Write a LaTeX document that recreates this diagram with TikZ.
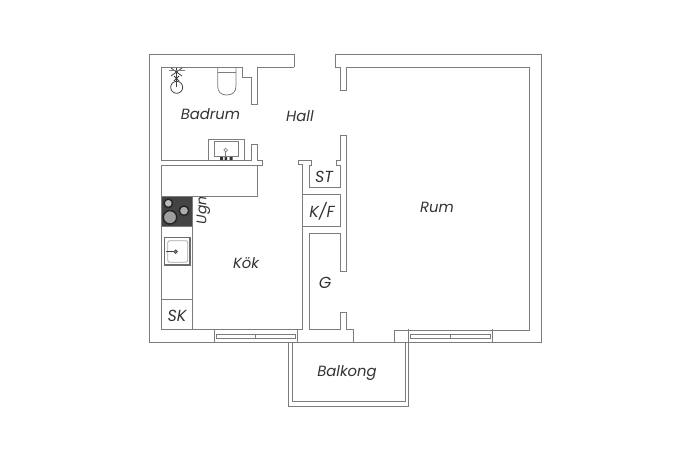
\documentclass[tikz,border=0pt]{standalone}
\usepackage{fontspec}
\setmainfont{Poppins}
\usepackage{xcolor}
\definecolor{wallgray}{HTML}{7C7C7C}
\definecolor{hobdark}{HTML}{444444}
\tikzset{
    wall/.style={draw=wallgray, line width=1pt, line join=miter},
    fixture/.style={draw=wallgray, line width=0.8pt},
    roomlabel/.style={font=\itshape\fontsize{14.8}{15}\selectfont, text=black!80, inner sep=0pt},
    smalllabel/.style={roomlabel, font=\itshape\fontsize{16}{16}\selectfont},
    hobring/.style={circle, draw=black!85, fill=gray!75, line width=1.5pt, inner sep=0pt}
}
\begin{document}
\begin{tikzpicture}[x=1pt, y=-1pt]
        \useasboundingbox (0,0) rectangle (690,460);

        % outer walls
        \path[wall] (294,67) -- (294,54.5) -- (149,54.5) -- (149,342.5) -- (541.5,342.5) -- (541.5,54.5) -- (335,54.5) -- (335,67);

        % badrum
        \path[wall] (294,67) -- (257.7,67) -- (257.7,104) -- (251,104) -- (251,77) -- (242,77) -- (242,67) -- (161.7,67) -- (161.7,160) -- (251,160) -- (251,144) -- (257.7,144) -- (257.7,160) -- (262,160) -- (262,165) -- (161.7,165) -- (161.7,329) -- (297,329);

        % hall and closets
        \path[wall] (335,67) -- (340.7,67) -- (340.7,90.7) -- (346,90.7) -- (346,67) -- (529,67) -- (529,330) -- (408,330);
        \path[wall] (340.7,135) -- (346,135) -- (346,271.3) -- (340.7,271.3) -- (340.7,233.3) -- (309,233.3) -- (309,329) -- (340.7,329) -- (340.7,312) -- (346.5,312) -- (346.5,329) -- (353,329) -- (353,342.5);
        \path[wall] (340.7,135) -- (340.7,160.7) -- (336,160.7) -- (336,165) -- (340.7,165) -- (340.7,187.7) -- (309,187.7) -- (309,165) -- (311.7,165) -- (311.7,160) -- (298.3,160) -- (298.3,164.5) -- (302.7,164.5) -- (302.7,329) -- (297,329) -- (297,342.5);
        \path[wall] (302.7,194) -- (340.7,194) -- (340.7,226.7) -- (302.7,226.7);
        \path[wall] (394,342.5) -- (394,330) -- (408,330) -- (408,342.5);

        % kok
        \path[fixture] (257.3,165) -- (257.3,196) -- (161.7,196);
        \path[fixture] (192,196) -- (192,329);
        \path[fixture] (161.7,299) -- (192,299);
        \path[fixture, fill=hobdark] (161.7,196) rectangle (192,226.5);
        \node[hobring, minimum size=8.5pt, fill=gray!55](ring1) at (168.3,203.3){};
        \node[hobring, minimum size=9.5pt, fill=gray!65](ring2) at (184,210.7){};
        \node[hobring, minimum size=13.5pt](ring3) at (170,217.3){};
        \path[draw=gray!85!black, line width=1.3pt] (164.3,237.7) rectangle (190,265);
        \path[fixture, draw=gray!70, rounded corners=2pt] (167.7,240.7) rectangle (187.7,262.3);
        \node[circle, draw=black!70, fill=gray, line width=0.7pt, minimum size=3.6pt, inner sep=0pt](drain) at (175.7,251.7){};
        \coordinate (tap) at (166,251.7);
        \path[draw=black!75, line width=0.8pt] (tap) -- (drain);

        % windows
        \foreach \xa/\xb/\xm in {214.3/297/255.7, 408/492/450} {
            \path[fixture] (\xa,329) -- (\xa,342.5) (\xb,329) -- (\xb,342.5);
            \path[fixture] (\xa+2,334) rectangle (\xb-2,338.3);
            \path[fixture] (\xm,334) -- (\xm,338.3);
        }

        % balkong
        \path[wall] (288.5,342.5) -- (288.5,406) -- (408,406) -- (408,342.5);
        \path[wall] (292.7,342.5) -- (292.7,401.7) -- (405,401.7) -- (405,342.5);

        % toalett
        \path[fixture] (217.7,67) -- (217.7,86) .. controls (217.7,92) and (221,95) .. (226.5,95) .. controls (232.5,95) and (236,92) .. (236,86) -- (236,67);
        \path[fixture] (217.7,72.3) -- (236,72.3);

        % dusch
        \node[circle, draw=black!75, line width=0.8pt, minimum size=12pt, inner sep=0pt](shower) at (176.7,87.3){};
        \coordinate (showertop) at (176.7,68);
        \path[draw=black!75, line width=0.8pt] (showertop) -- (shower.center);
        \path[draw=black!75, line width=0.8pt] (171,68) -- (182,76) (182,68) -- (171,76) (174,76) -- (179,81) (179,76) -- (174,81);
        \path[draw=gray, line width=1.3pt] (169,70.5) -- (185,70.5);

        % handfat
        \path[fixture] (208.3,160) -- (208.3,139.7) -- (244,139.7) -- (244,160);
        \path[fixture] (214,141.7) rectangle (238.3,156.7);
        \node[circle, draw=gray, line width=0.7pt, minimum size=3.6pt, inner sep=0pt](faucet) at (225.7,150){};
        \coordinate (faucetbase) at (225.7,158);
        \path[draw=gray, line width=0.8pt] (faucet) -- (faucetbase);
        \path[fill=black!80] (220,157) rectangle (223,160) (224.5,157) rectangle (227,160) (229.5,157) rectangle (232.7,160);

        % labels
        \node[roomlabel](badrum) at (210.5,114) {Badrum};
        \node[roomlabel](hall) at (300,116) {Hall};
        \node[smalllabel](st) at (324,177) {ST};
        \node[smalllabel](kf) at (322,211.5) {K/F};
        \node[roomlabel](rum) at (437,207) {Rum};
        \node[roomlabel, font=\itshape\fontsize{14}{14}\selectfont, rotate=90](ugn) at (203.5,210.5) {Ugn};
        \node[roomlabel](kok) at (246,263.5) {Kök};
        \node[smalllabel](g) at (325,282.5) {G};
        \node[smalllabel](sk) at (177,316) {SK};
        \node[roomlabel](balkong) at (347,373) {Balkong};
    \end{tikzpicture}
\end{document}
